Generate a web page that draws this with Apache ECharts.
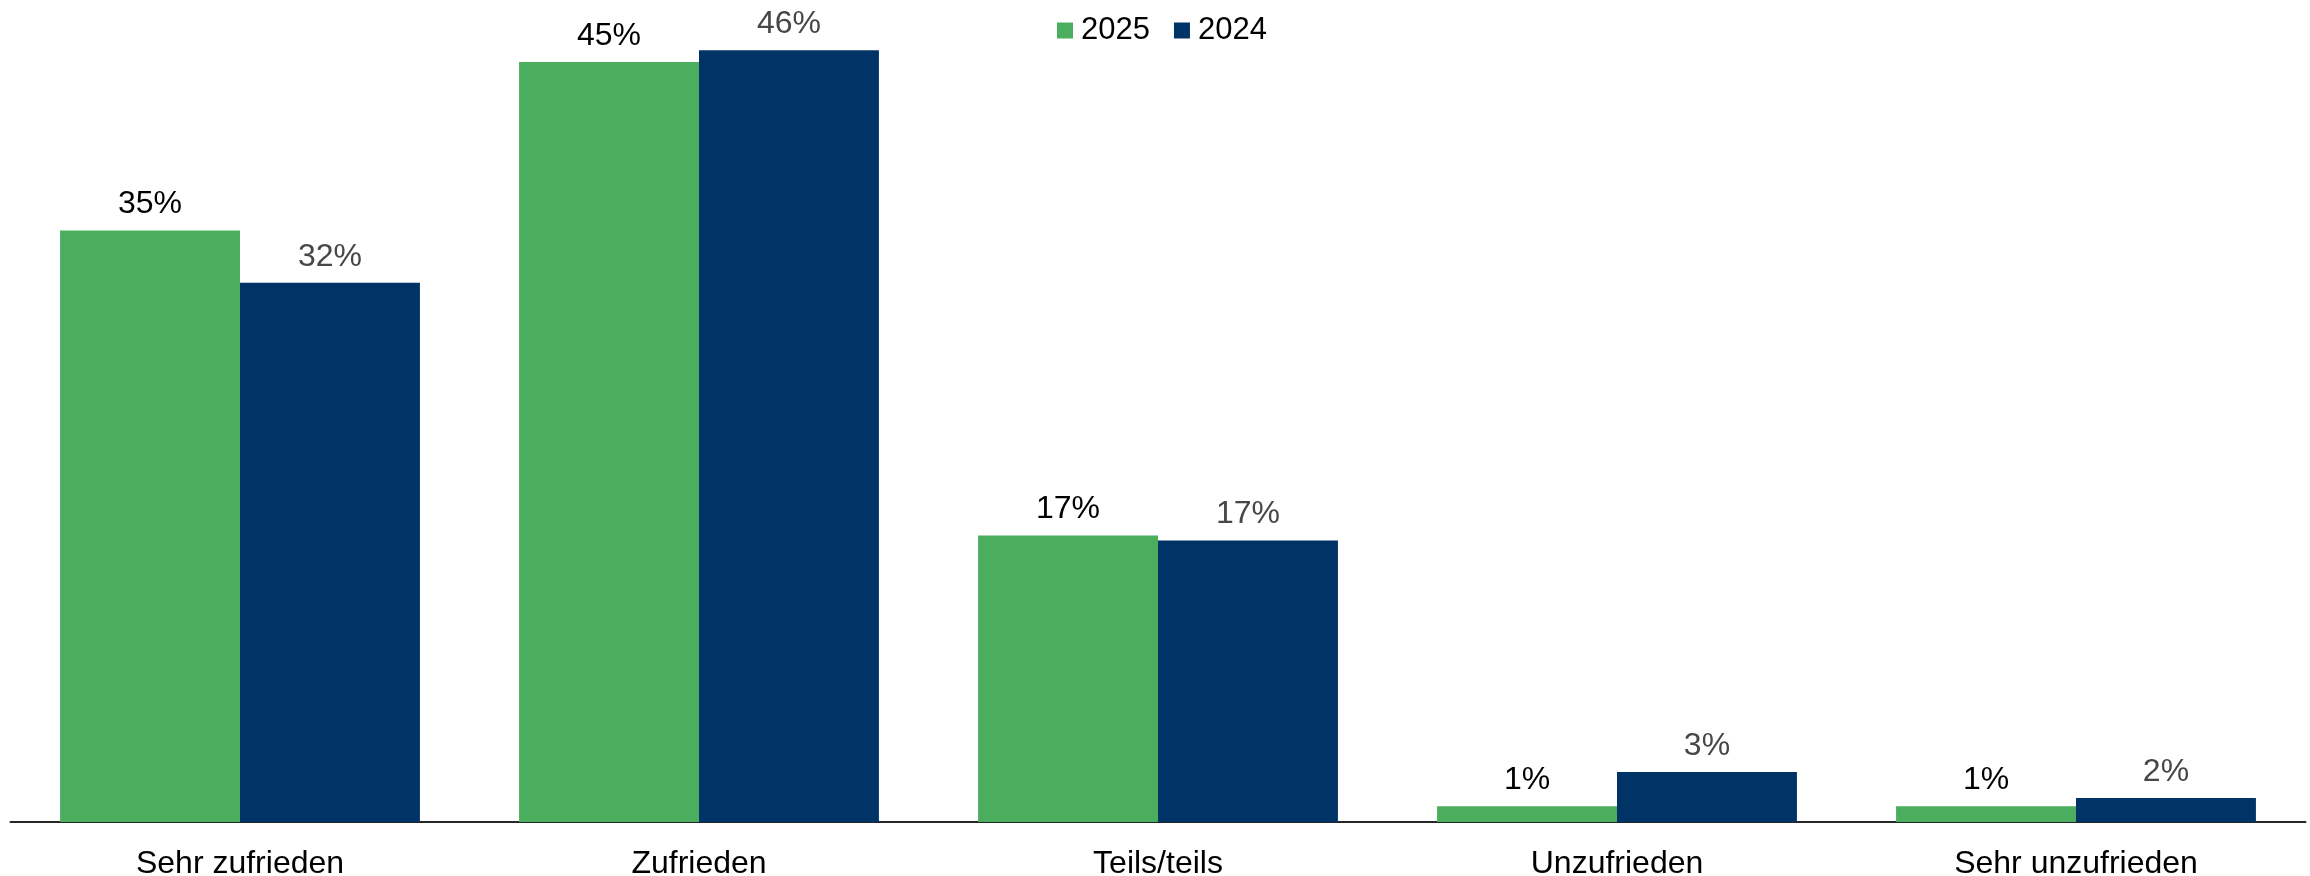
<!DOCTYPE html>
<html>
<head>
<meta charset="utf-8">
<script src="https://cdn.jsdelivr.net/npm/echarts@6/dist/echarts.min.js"></script>
<style>
    html, body { margin: 0; padding: 0; background: #fff; }
    #main { width: 2310px; height: 876px; }
</style>
</head>
<body>
<div id="main"></div>
<script>
// Kategorien und Werte (in %)
var categories = ['Sehr zufrieden', 'Zufrieden', 'Teils/teils', 'Unzufrieden', 'Sehr unzufrieden'];
var values2025 = [35.1, 45.1, 17.0, 0.93, 0.93];
var values2024 = [32.0, 45.8, 16.7, 2.97, 1.42];
// angezeigte (gerundete) Beschriftungen
var labels2025 = [35, 45, 17, 1, 1];
var labels2024 = [32, 46, 17, 3, 2];

var fontName = 'Liberation Sans, Arial, sans-serif';

var myChart = echarts.init(document.getElementById('main'));
var option = {
    animation: false,
    color: ['#4BAE5E', '#003466'],
    legend: {
        data: ['2025', '2024'],
        left: 1057,
        top: 15,
        padding: 0,
        icon: 'rect',
        itemWidth: 16,
        itemHeight: 16,
        itemGap: 24,
        textStyle: {
            color: '#000',
            fontSize: 31,
            fontFamily: fontName,
            padding: [0, 0, 0, 3]
        }
    },
    grid: {
        left: 10.5,
        right: 4.5,
        top: 13.2,
        bottom: 54,
        containLabel: false,
        outerBoundsMode: 'none'
    },
    xAxis: {
        type: 'category',
        data: categories,
        axisTick: { show: false },
        axisLine: {
            lineStyle: { color: '#262626', width: 2 }
        },
        axisLabel: {
            margin: 26,
            color: '#000',
            fontSize: 32,
            fontFamily: fontName
        }
    },
    yAxis: {
        type: 'value',
        show: false,
        min: 0,
        max: 48,
        splitLine: { show: false }
    },
    series: [
        {
            name: '2025',
            type: 'bar',
            data: values2025,
            barGap: '0%',
            barCategoryGap: '21.6%',
            label: {
                show: true,
                position: 'top',
                distance: 10,
                color: '#000',
                fontSize: 32,
                fontFamily: fontName,
                formatter: function (p) { return labels2025[p.dataIndex] + '%'; }
            }
        },
        {
            name: '2024',
            type: 'bar',
            data: values2024,
            barGap: '0%',
            barCategoryGap: '21.6%',
            label: {
                show: true,
                position: 'top',
                distance: 10,
                color: '#474747',
                fontSize: 32,
                fontFamily: fontName,
                formatter: function (p) { return labels2024[p.dataIndex] + '%'; }
            }
        }
    ]
};
myChart.setOption(option);
</script>
</body>
</html>
